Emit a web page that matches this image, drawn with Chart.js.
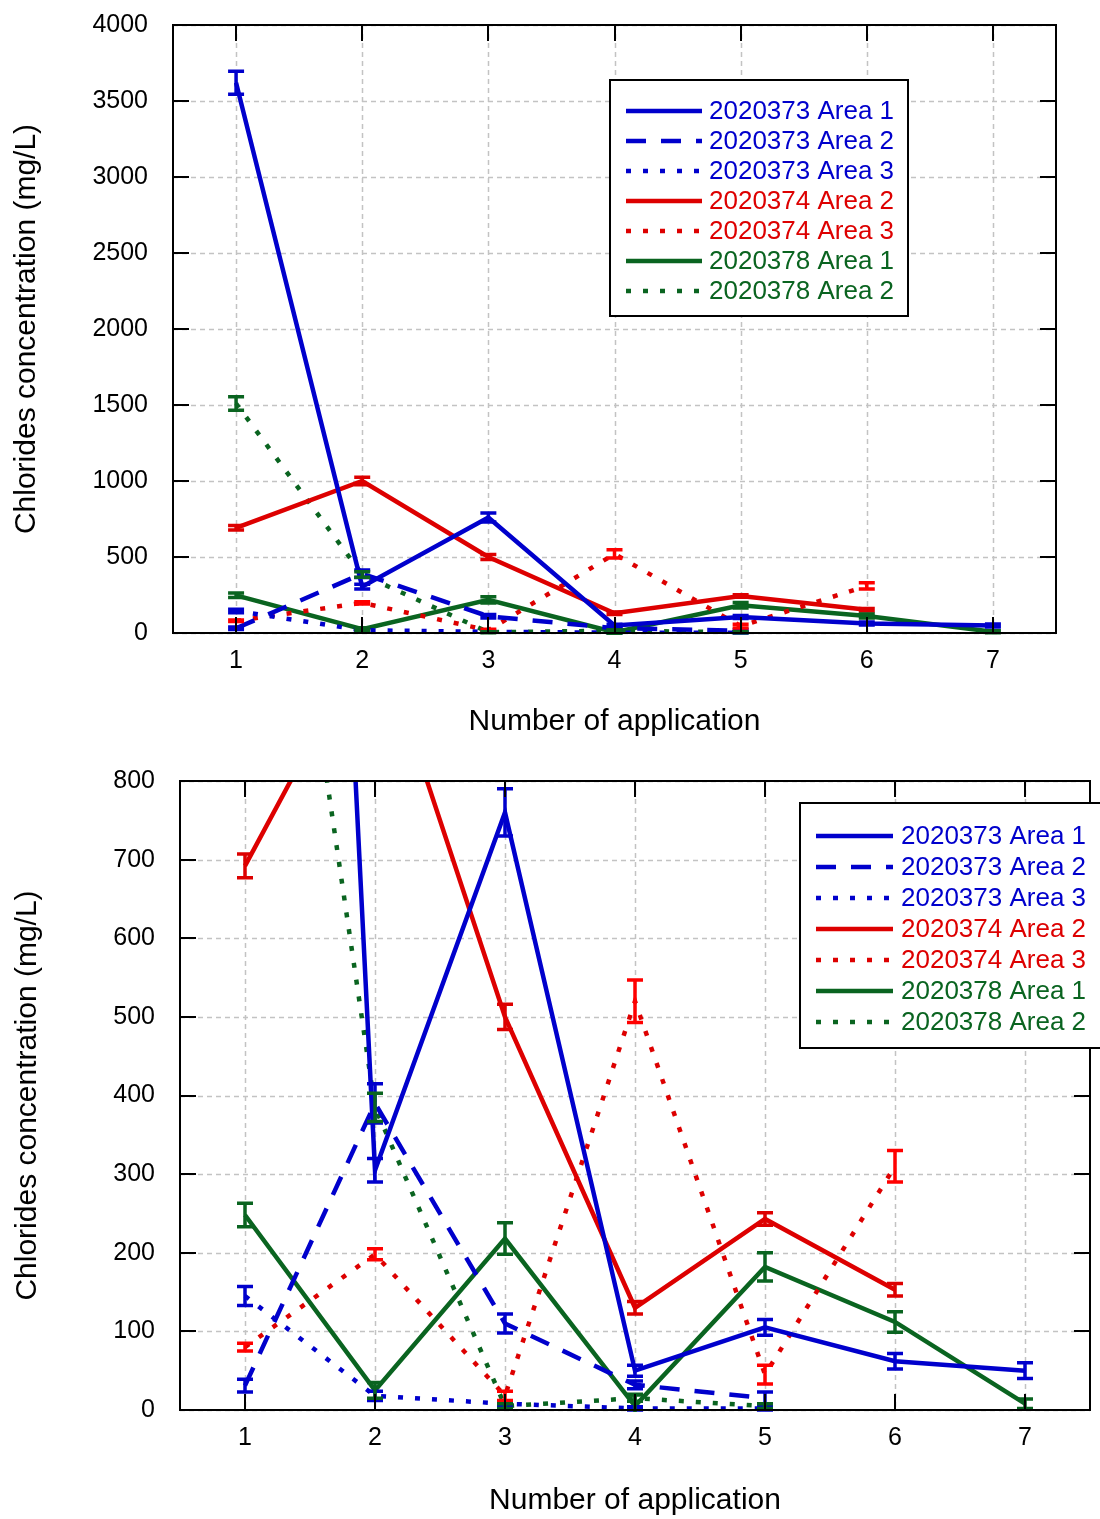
<!DOCTYPE html>
<html>
<head>
<meta charset="utf-8">
<script src="https://cdn.jsdelivr.net/npm/chart.js@4/dist/chart.umd.min.js"></script>
<style>
  html, body { margin: 0; padding: 0; background: #ffffff; }
  body { width: 1100px; height: 1519px; position: relative; overflow: hidden; }
  .wrap { position: absolute; left: 0; width: 1100px; }
</style>
</head>
<body>
<div class="wrap" style="top:0;height:750px"><canvas id="c1"></canvas></div>
<div class="wrap" style="top:750px;height:769px"><canvas id="c2"></canvas></div>
<script>
// ---------------- data ----------------
const xValues = [1, 2, 3, 4, 5, 6, 7];
const xTickLabels = ['1', '2', '3', '4', '5', '6', '7'];
const seriesNames = ['2020373 Area 1', '2020373 Area 2', '2020373 Area 3',
                     '2020374 Area 2', '2020374 Area 3', '2020378 Area 1', '2020378 Area 2'];

const s373a1 = [3620, 305, 760, 50, 105, 62, 50];
const e373a1 = [75, 15, 30, 7, 10, 10, 10];
const s373a2 = [31, 390, 110, 32, 15];
const e373a2 = [8, 25, 12, 5, 8];
const s373a3 = [145, 18, 8, 2, 2];
const e373a3 = [12, 6, 3, 2, 2];
const s374a2 = [692, 1000, 500, 130, 243, 153];
const e374a2 = [15, 25, 16, 8, 8, 8];
const s374a3 = [80, 198, 18, 520, 45, 310];
const e374a3 = [5, 7, 6, 27, 12, 20];
const s378a1 = [248, 25, 218, 5, 182, 112, 8];
const e378a1 = [15, 10, 20, 15, 18, 13, 6];
const s378a2 = [1510, 385, 5, 15, 5];
const e378a2 = [45, 18, 3, 4, 3];

const topYTicks = [0, 500, 1000, 1500, 2000, 2500, 3000, 3500, 4000];
const bottomYTicks = [0, 100, 200, 300, 400, 500, 600, 700, 800];

// ---------------- styles ----------------
const BLUE = '#0000cc', RED = '#dd0000', RED2 = '#ff0000', GREEN = '#0a6420';
const DASH = [20, 15], DOT = [5, 12], SOLID = [];
const FONT = "'Liberation Sans', Arial, sans-serif";

const seriesDefs = [
  { vals: s373a1, errs: e373a1, color: BLUE,  err: BLUE,  dash: SOLID },
  { vals: s373a2, errs: e373a2, color: BLUE,  err: BLUE,  dash: DASH },
  { vals: s373a3, errs: e373a3, color: BLUE,  err: BLUE,  dash: DOT },
  { vals: s374a2, errs: e374a2, color: RED,   err: RED,   dash: SOLID },
  { vals: s374a3, errs: e374a3, color: RED,   err: RED2,  dash: DOT },
  { vals: s378a1, errs: e378a1, color: GREEN, err: GREEN, dash: SOLID },
  { vals: s378a2, errs: e378a2, color: GREEN, err: GREEN, dash: DOT }
];

function buildDatasets() {
  return seriesDefs.map((d, k) => ({
    label: seriesNames[k],
    data: d.vals.map((v, i) => ({ x: xValues[i], y: v })),
    errors: d.errs,
    errColor: d.err,
    borderColor: d.color,
    backgroundColor: d.color,
    borderDash: d.dash,
    borderWidth: 4.5,
    borderCapStyle: 'butt',
    borderJoinStyle: 'miter',
    pointRadius: 0,
    pointHoverRadius: 0,
    tension: 0,
    fill: false
  }));
}

const decorPlugin = {
  id: 'decor',
  beforeDatasetsDraw(chart) {
    const { ctx, chartArea: a, scales: { x, y } } = chart;
    ctx.save();
    ctx.strokeStyle = '#c3c3c3';
    ctx.lineWidth = 1.5;
    ctx.setLineDash([5, 4]);
    x.ticks.forEach(t => {
      const px = Math.round(x.getPixelForValue(t.value)) + 0.5;
      ctx.beginPath(); ctx.moveTo(px, a.top); ctx.lineTo(px, a.bottom); ctx.stroke();
    });
    y.ticks.forEach(t => {
      const py = Math.round(y.getPixelForValue(t.value)) + 0.5;
      ctx.beginPath(); ctx.moveTo(a.left, py); ctx.lineTo(a.right, py); ctx.stroke();
    });
    ctx.restore();
  },
  afterDatasetsDraw(chart) {
    const { ctx, chartArea: a, scales: { x, y } } = chart;
    // error bars
    ctx.save();
    ctx.beginPath();
    ctx.rect(a.left, a.top - 2, a.right - a.left, a.bottom - a.top + 4);
    ctx.clip();
    ctx.setLineDash([]);
    ctx.lineWidth = 3.5;
    chart.data.datasets.forEach((ds, k) => {
      const meta = chart.getDatasetMeta(k);
      ctx.strokeStyle = ds.errColor;
      meta.data.forEach((pt, i) => {
        const v = ds.data[i].y, e = ds.errors[i];
        const px = pt.x;
        const yt = y.getPixelForValue(v + e), yb = y.getPixelForValue(v - e);
        ctx.beginPath();
        ctx.moveTo(px, yt); ctx.lineTo(px, yb);
        ctx.moveTo(px - 8, yt); ctx.lineTo(px + 8, yt);
        ctx.moveTo(px - 8, yb); ctx.lineTo(px + 8, yb);
        ctx.stroke();
      });
    });
    ctx.restore();
    // frame and inner ticks
    ctx.save();
    ctx.setLineDash([]);
    ctx.strokeStyle = '#000';
    ctx.lineWidth = 2;
    const tl = 16;
    ctx.beginPath();
    y.ticks.forEach(t => {
      const py = Math.round(y.getPixelForValue(t.value));
      ctx.moveTo(a.left, py); ctx.lineTo(a.left + tl, py);
      ctx.moveTo(a.right, py); ctx.lineTo(a.right - tl, py);
    });
    x.ticks.forEach(t => {
      const px = Math.round(x.getPixelForValue(t.value));
      ctx.moveTo(px, a.top); ctx.lineTo(px, a.top + tl);
      ctx.moveTo(px, a.bottom); ctx.lineTo(px, a.bottom - tl);
    });
    ctx.stroke();
    ctx.strokeRect(a.left, a.top, a.right - a.left, a.bottom - a.top);
    ctx.restore();
  },
  afterDraw(chart) {
    const L = chart.options.plugins.decor.legend;
    const { ctx } = chart;
    ctx.save();
    ctx.fillStyle = '#fff';
    ctx.fillRect(L.x, L.y, L.w, L.h);
    ctx.strokeStyle = '#000';
    ctx.lineWidth = 2;
    ctx.setLineDash([]);
    ctx.strokeRect(L.x, L.y, L.w, L.h);
    ctx.font = L.font + 'px ' + FONT;
    ctx.textBaseline = 'middle';
    chart.data.datasets.forEach((ds, k) => {
      const cy = L.row0 + k * L.dy;
      ctx.strokeStyle = ds.borderColor;
      ctx.lineWidth = 4.5;
      ctx.lineCap = 'butt';
      ctx.setLineDash(ds.borderDash);
      ctx.beginPath();
      ctx.moveTo(L.s0, cy); ctx.lineTo(L.s1, cy);
      ctx.stroke();
      ctx.setLineDash([]);
      ctx.fillStyle = ds.borderColor;
      ctx.fillText(ds.label, L.tx, cy + 1);
    });
    ctx.restore();
  }
};

function makeChart(id, cfg) {
  return new Chart(document.getElementById(id), {
    type: 'line',
    data: { datasets: buildDatasets() },
    options: {
      responsive: true,
      maintainAspectRatio: false,
      animation: false,
      events: [],
      layout: { padding: cfg.padding },
      plugins: {
        legend: { display: false },
        tooltip: { enabled: false },
        decor: { legend: cfg.legend }
      },
      scales: {
        x: {
          type: 'linear',
          min: 0.5, max: 7.5,
          afterBuildTicks: s => { s.ticks = xValues.map(v => ({ value: v })); },
          afterFit: s => { s.height = cfg.xAxisH; s.paddingLeft = 0; s.paddingRight = 0; },
          grid: { display: false, drawTicks: false },
          border: { display: false },
          ticks: {
            font: { family: FONT, size: 25 }, color: '#000',
            padding: cfg.xTickPad, maxRotation: 0,
            callback: (v) => xTickLabels[xValues.indexOf(v)]
          },
          title: {
            display: true, text: 'Number of application',
            font: { family: FONT, size: 30 }, color: '#000',
            padding: { top: 0, bottom: cfg.xTitlePad }
          }
        },
        y: {
          type: 'linear',
          min: cfg.yTicks[0], max: cfg.yTicks[cfg.yTicks.length - 1],
          afterBuildTicks: s => { s.ticks = cfg.yTicks.map(v => ({ value: v })); },
          afterFit: s => { s.width = cfg.yAxisW; s.paddingTop = 0; s.paddingBottom = 0; },
          grid: { display: false, drawTicks: false },
          border: { display: false },
          ticks: {
            font: { family: FONT, size: 25 }, color: '#000',
            padding: 25,
            callback: (v) => String(v)
          },
          title: {
            display: true, text: 'Chlorides concentration (mg/L)',
            font: { family: FONT, size: 30 }, color: '#000',
            padding: { top: cfg.yTitlePad, bottom: 0 }
          }
        }
      }
    },
    plugins: [decorPlugin]
  });
}

makeChart('c1', {
  padding: { top: 25, right: 44, left: 0, bottom: 0 },
  xAxisH: 117, yAxisW: 173, xTickPad: 13, xTitlePad: 10, yTitlePad: 9,
  yTicks: topYTicks,
  legend: { x: 610, y: 80, w: 298, h: 236, row0: 111, dy: 30, s0: 626, s1: 702, tx: 709, font: 26 }
});

makeChart('c2', {
  padding: { top: 31, right: 10, left: 0, bottom: 0 },
  xAxisH: 109, yAxisW: 180, xTickPad: 13, xTitlePad: 0, yTitlePad: 10,
  yTicks: bottomYTicks,
  legend: { x: 800, y: 53, w: 320, h: 245, row0: 86, dy: 31, s0: 816, s1: 893, tx: 901, font: 26 }
});
</script>
</body>
</html>
